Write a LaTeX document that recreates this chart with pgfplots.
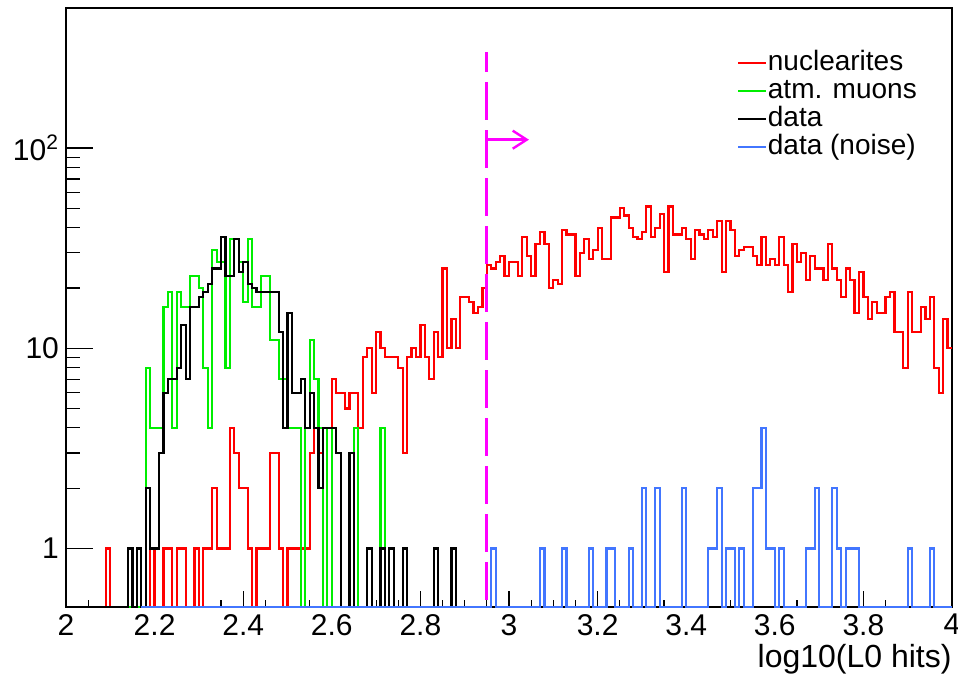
\documentclass[border=0pt]{standalone}
\usepackage{fontspec}
\setmainfont{Liberation Sans}
\usepackage{pgfplots}
\usepackage{pgfplotstable}
\pgfplotsset{compat=1.18}
\usetikzlibrary{arrows.meta}
\definecolor{hred}{RGB}{255,0,0}
\definecolor{hgreen}{RGB}{0,238,0}
\definecolor{hblue}{RGB}{66,118,255}
\definecolor{hmag}{RGB}{255,0,255}
\pgfplotstableread{
x r g k b
2.00 0 0 0 0
2.01 0 0 0 0
2.02 0 0 0 0
2.03 0 0 0 0
2.04 0 0 0 0
2.05 0 0 0 0
2.06 0 0 0 0
2.07 0 0 0 0
2.08 0 0 0 0
2.09 1 0 0 0
2.10 0 0 0 0
2.11 0 0 0 0
2.12 0 0 0 0
2.13 0 0 0 0
2.14 0 0 1 0
2.15 0 0 0 0
2.16 1 0 1 0
2.17 0 0 0 0
2.18 0 8 2 0
2.19 1 4 1 0
2.20 0 4 1 0
2.21 0 4 3 0
2.22 1 16 6 0
2.23 1 19 7 0
2.24 0 4 7 0
2.25 1 19 8 0
2.26 1 16 13 0
2.27 0 16 7 0
2.28 0 23 16 0
2.29 1 23 16 0
2.30 0 20 18 0
2.31 1 8 19 0
2.32 1 4 21 0
2.33 2 31 25 0
2.34 1 27 25 0
2.35 1 27 36 0
2.36 1 8 23 0
2.37 4 35 23 0
2.38 3 35 35 0
2.39 2 27 24 0
2.40 2 17 27 0
2.41 1 35 21 0
2.42 0 16 20 0
2.43 1 16 19 0
2.44 1 23 19 0
2.45 1 23 19 0
2.46 3 11 19 0
2.47 3 11 19 0
2.48 1 7 12 0
2.49 0 7 4 0
2.50 1 4 15 0
2.51 1 4 6 0
2.52 1 4 6 0
2.53 1 0 7 0
2.54 1 4 4 0
2.55 3 11 6 0
2.56 4 7 4 0
2.57 3 4 2 0
2.58 4 0 4 0
2.59 4 4 4 0
2.60 7 0 4 0
2.61 6 0 3 0
2.62 6 0 0 0
2.63 5 0 0 0
2.64 6 0 3 0
2.65 6 4 0 0
2.66 4 0 0 0
2.67 9 0 0 0
2.68 10 0 1 0
2.69 6 0 0 0
2.70 12 0 0 0
2.71 10 4 1 0
2.72 9 0 0 0
2.73 9 0 1 0
2.74 9 0 0 0
2.75 8 0 0 0
2.76 3 0 1 0
2.77 9 0 0 0
2.78 10 0 0 0
2.79 9 0 0 0
2.80 13 0 0 0
2.81 9 0 0 0
2.82 7 0 0 0
2.83 12 0 1 0
2.84 9 0 0 0
2.85 25 0 0 0
2.86 10 0 0 0
2.87 14 0 1 0
2.88 10 0 0 0
2.89 18 0 0 0
2.90 18 0 0 0
2.91 17 0 0 0
2.92 15 0 0 0
2.93 16 0 0 0
2.94 20 0 0 0
2.95 26 0 0 0
2.96 25 0 0 1
2.97 27 0 0 0
2.98 29 0 0 0
2.99 23 0 0 0
3.00 27 0 0 0
3.01 27 0 0 0
3.02 23 0 0 0
3.03 36 0 0 0
3.04 29 0 0 0
3.05 23 0 0 0
3.06 33 0 0 0
3.07 38 0 0 1
3.08 33 0 0 0
3.09 20 0 0 0
3.10 22 0 0 0
3.11 21 0 0 0
3.12 39 0 0 1
3.13 37 0 0 0
3.14 37 0 0 0
3.15 23 0 0 0
3.16 30 0 0 0
3.17 35 0 0 0
3.18 28 0 0 1
3.19 31 0 0 0
3.20 40 0 0 0
3.21 28 0 0 0
3.22 28 0 0 1
3.23 45 0 0 1
3.24 45 0 0 0
3.25 50 0 0 0
3.26 46 0 0 0
3.27 40 0 0 1
3.28 36 0 0 0
3.29 35 0 0 0
3.30 38 0 0 2
3.31 51 0 0 0
3.32 36 0 0 0
3.33 40 0 0 2
3.34 47 0 0 0
3.35 24 0 0 0
3.36 51 0 0 0
3.37 37 0 0 0
3.38 37 0 0 0
3.39 40 0 0 2
3.40 35 0 0 0
3.41 28 0 0 0
3.42 39 0 0 0
3.43 37 0 0 0
3.44 35 0 0 0
3.45 39 0 0 1
3.46 36 0 0 1
3.47 43 0 0 2
3.48 24 0 0 0
3.49 43 0 0 1
3.50 39 0 0 1
3.51 29 0 0 0
3.52 31 0 0 1
3.53 32 0 0 0
3.54 32 0 0 0
3.55 29 0 0 2
3.56 26 0 0 2
3.57 36 0 0 4
3.58 26 0 0 1
3.59 28 0 0 1
3.60 26 0 0 0
3.61 36 0 0 1
3.62 26 0 0 0
3.63 19 0 0 0
3.64 33 0 0 0
3.65 27 0 0 0
3.66 30 0 0 0
3.67 22 0 0 1
3.68 29 0 0 1
3.69 25 0 0 2
3.70 25 0 0 0
3.71 22 0 0 0
3.72 33 0 0 0
3.73 25 0 0 2
3.74 22 0 0 1
3.75 18 0 0 0
3.76 25 0 0 1
3.77 22 0 0 1
3.78 15 0 0 1
3.79 24 0 0 0
3.80 18 0 0 0
3.81 14 0 0 0
3.82 17 0 0 0
3.83 15 0 0 0
3.84 15 0 0 0
3.85 18 0 0 0
3.86 19 0 0 0
3.87 12 0 0 0
3.88 12 0 0 0
3.89 8 0 0 0
3.90 19 0 0 1
3.91 12 0 0 0
3.92 12 0 0 0
3.93 16 0 0 0
3.94 14 0 0 0
3.95 18 0 0 1
3.96 8 0 0 0
3.97 6 0 0 0
3.98 14 0 0 0
3.99 10 0 0 0
4.00 10 0 0 0
}\hist
\begin{document}
\begin{tikzpicture}
\path[use as bounding box] (-33pt,-37pt) rectangle (446pt,303.5pt);
\begin{axis}[
  at={(0pt,0pt)}, anchor=south west,
  scale only axis, width=443pt, height=299.5pt,
  ymode=log, ymin=0.51, ymax=500,
  xmin=2, xmax=4,
  xtick={2,2.2,2.4,2.6,2.8,3,3.2,3.4,3.6,3.8,4},
  xticklabels={2,2.2,2.4,2.6,2.8,3,3.2,3.4,3.6,3.8,4},
  minor x tick num=3,
  ytick={1,10,100},
  yticklabels={1,10,10\textsuperscript{2}},
  xtick pos=left, ytick pos=left,
  tick align=inside,
  major tick length=13.5pt, minor tick length=7pt,
  xtick style={/pgfplots/major tick length=8pt,/pgfplots/minor tick length=3.5pt},
  tick style={line width=0.6pt, black},
  axis line style={line width=1pt},
  tick label style={font=\fontsize{15}{18}\selectfont},
  xlabel={log10(L0 hits)},
  xlabel style={at={(axis description cs:1,0)}, anchor=base east, yshift=-30pt, font=\fontsize{16}{19}\selectfont, inner sep=0pt},
  legend style={at={(0.757,0.9316)}, anchor=north west, draw=none, fill=none, inner sep=0pt,
    font=\fontsize{14}{16}\selectfont, nodes={inner sep=0.5pt, text height=10pt, text depth=3pt}, row sep=0pt},
  legend cell align=left,
  legend image code/.code={\draw[#1, line width=0.9pt] (0pt,0pt) -- (14pt,0pt);},
  every axis plot/.append style={line width=1.1pt, const plot mark left, mark=none},
]
\addplot[hred] table[x=x, y expr={max(\thisrow{r},0.51)}] {\hist};
\addlegendentry{nuclearites}
\addplot[hgreen] table[x=x, y expr={max(\thisrow{g},0.51)}] {\hist};
\addlegendentry{atm. muons}
\addplot[black] table[x=x, y expr={max(\thisrow{k},0.51)}] {\hist};
\addlegendentry{data}
\addplot[hblue, restrict x to domain=2.17:4] table[x=x, y expr={max(\thisrow{b},0.51)}] {\hist};
\addlegendentry{data (noise)}
\addplot[hmag, sharp plot, line width=1.5pt, dash pattern=on 19pt off 5pt, dash phase=9pt, forget plot] coordinates {(2.95,300) (2.95,0.51)};
\addplot[hmag, sharp plot, line width=1.2pt, -{Straight Barb[length=7pt,width=9pt]}, forget plot] coordinates {(2.95,110) (3.045,110)};
\end{axis}
\end{tikzpicture}
\end{document}
